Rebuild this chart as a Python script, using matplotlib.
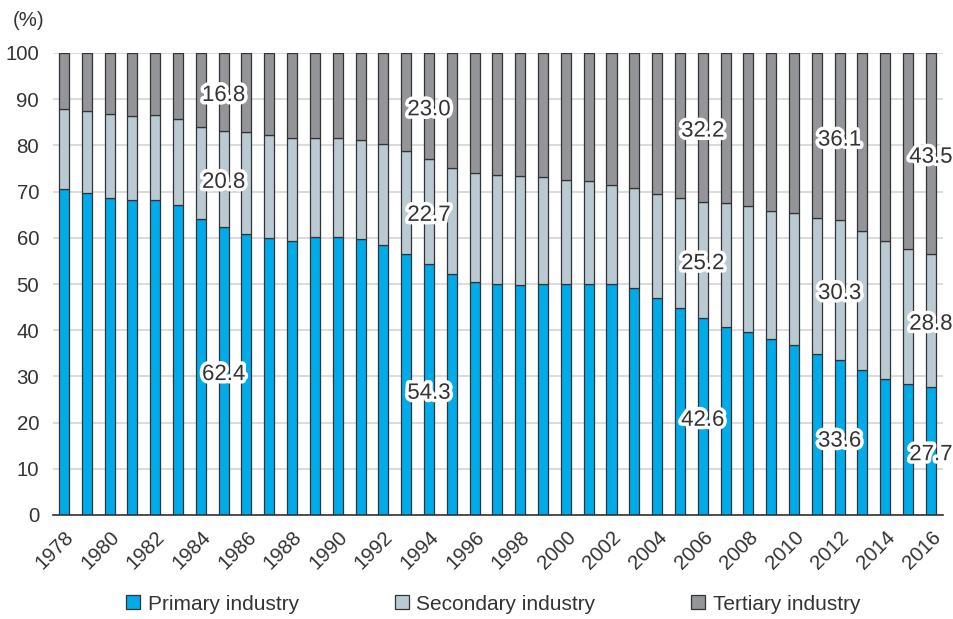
import numpy as np
import matplotlib
matplotlib.use('Agg')
import matplotlib.pyplot as plt
import matplotlib.patheffects as pe

years = list(range(1978, 2017))
primary = [70.5, 69.8, 68.7, 68.1, 68.1, 67.1, 64.0, 62.4, 60.9, 60.0,
           59.3, 60.1, 60.1, 59.7, 58.5, 56.4, 54.3, 52.2, 50.5, 49.9,
           49.8, 50.1, 50.0, 50.0, 50.0, 49.1, 46.9, 44.8, 42.6, 40.8,
           39.6, 38.1, 36.7, 34.8, 33.6, 31.4, 29.5, 28.3, 27.7]
secondary = [17.3, 17.6, 18.2, 18.3, 18.4, 18.7, 19.9, 20.8, 21.9, 22.2,
             22.4, 21.6, 21.4, 21.4, 21.7, 22.4, 22.7, 23.0, 23.5, 23.7,
             23.5, 23.0, 22.5, 22.3, 21.4, 21.6, 22.5, 23.8, 25.2, 26.8,
             27.2, 27.8, 28.7, 29.5, 30.3, 30.1, 29.9, 29.3, 28.8]
tertiary = [12.2, 12.6, 13.1, 13.6, 13.5, 14.2, 16.1, 16.8, 17.2, 17.8,
            18.3, 18.3, 18.5, 18.9, 19.8, 21.2, 23.0, 24.8, 26.0, 26.4,
            26.7, 26.9, 27.5, 27.7, 28.6, 29.3, 30.6, 31.4, 32.2, 32.4,
            33.2, 34.1, 34.6, 35.7, 36.1, 38.5, 40.6, 42.4, 43.5]
labelled_years = [1985, 1994, 2006, 2012, 2016]
series_names = ['Primary industry', 'Secondary industry', 'Tertiary industry']
colors = ['#00abe9', '#bacad2', '#939598']

plt.rcParams['font.family'] = ['Liberation Sans', 'DejaVu Sans']
text_color = '#333333'
fs = 14.7

fig = plt.figure(figsize=(9.54, 6.19), dpi=100)
ax = fig.add_axes([53 / 954, 1 - 515 / 619, (943 - 53) / 954, (515 - 53) / 619])

x = np.arange(len(years))
p = np.array(primary)
s = np.array(secondary)
t = np.array(tertiary)
w = 0.44
bars = []
bottom = np.zeros(len(years))
for vals, c in zip([p, s, t], colors):
    b = ax.bar(x, vals, w, bottom=bottom, color=c, edgecolor='#333333', linewidth=0.9, zorder=3)
    bars.append(b)
    bottom = bottom + vals

# value labels, centred in each segment
stroke = [pe.withStroke(linewidth=5, foreground='white')]
for yr in labelled_years:
    i = years.index(yr)
    mids = [p[i] / 2, p[i] + s[i] / 2, p[i] + s[i] + t[i] / 2]
    for v, m in zip([p[i], s[i], t[i]], mids):
        ax.text(x[i], m - 0.8, f'{v:.1f}', ha='center', va='center', fontsize=16,
                color=text_color, path_effects=stroke, zorder=5)

ax.set_ylim(0, 100)
ax.set_xlim(-0.48, len(years) - 1 + 0.53)
ax.set_yticks(range(0, 101, 10))
ax.yaxis.grid(True, color='#d4d4d4', linewidth=1.2, zorder=0)
ax.set_axisbelow(True)
for sp in ['top', 'right', 'left']:
    ax.spines[sp].set_visible(False)
ax.spines['bottom'].set_color('#333333')
ax.spines['bottom'].set_linewidth(1.2)
ax.spines['bottom'].set_zorder(4)
ax.tick_params(axis='both', length=0, labelsize=fs, colors=text_color)
ax.tick_params(axis='y', pad=10)
ax.set_xticks(x[::2])
ax.set_xticklabels([str(y) for y in years[::2]], rotation=45, ha='right', rotation_mode='anchor')
ax.tick_params(axis='x', pad=9)

fig.text(29 / 954, 1 - 21 / 619, '(%)', ha='center', va='center', fontsize=fs, color=text_color)

leg = fig.legend([b[0] for b in bars], series_names, loc='center', bbox_to_anchor=(0.517, 1 - 604 / 619),
                 ncol=3, frameon=False, fontsize=15, handlelength=0.68, handleheight=0.68,
                 columnspacing=4.6, handletextpad=0.35)
for txt in leg.get_texts():
    txt.set_color(text_color)

fig.savefig('out.png', dpi=100)
